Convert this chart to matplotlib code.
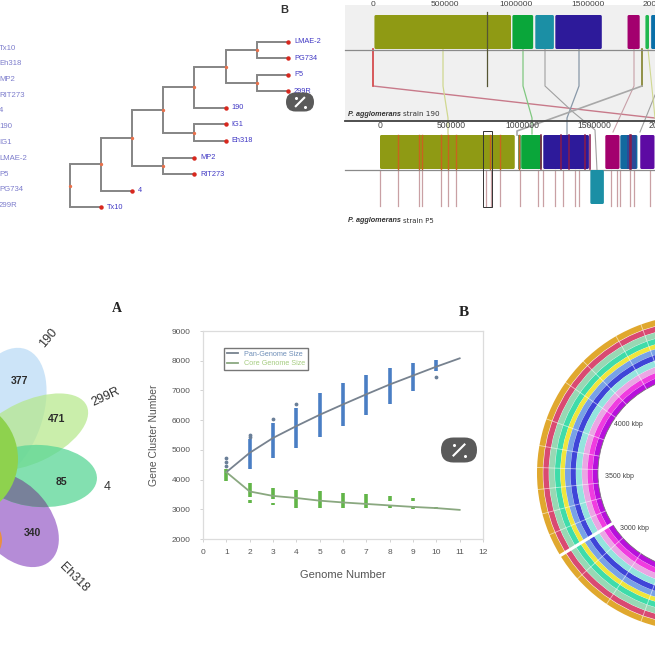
import matplotlib
matplotlib.use("Agg")
import matplotlib.pyplot as plt
import numpy as np
from matplotlib.patches import Ellipse, FancyBboxPatch, Rectangle, Wedge

plt.rcParams['font.family'] = ['Liberation Sans', 'DejaVu Sans']

# --- panel data ---
strain_list = ["Tx10", "Eh318", "MP2", "RIT273", "4", "190", "IG1", "LMAE-2", "P5", "PG734", "299R"]
tree = ("Tx10", ("4", (("MP2", "RIT273"), (("IG1", "Eh318"), ("190", (("P5", "299R"), ("LMAE-2", "PG734")))))))
tree_leaf_order = ["LMAE-2", "PG734", "P5", "299R", "190", "IG1", "Eh318", "MP2", "RIT273", "4", "Tx10"]

genome_ticks = [0, 500000, 1000000, 1500000, 2000000]
top_blocks = [(10000, 965000, "#8f9a14"), (975000, 1120000, "#0aa63a"), (1135000, 1265000, "#1b8fa5"),
              (1275000, 1600000, "#2d1a9a"), (1780000, 1865000, "#a3006e"), (1905000, 1930000, "#1fb84f"),
              (1945000, 2100000, "#0a6fa8")]
bottom_blocks = [(0, 945000, "#8f9a14"), (990000, 1135000, "#0aa63a"), (1145000, 1465000, "#2d1a9a"),
                 (1580000, 1680000, "#a3006e"), (1685000, 1805000, "#12699f"), (1825000, 1925000, "#5d0aa3"),
                 (1940000, 2000000, "#b0106e")]
moved_block = (1475000, 1570000, "#1b8fa5")
bottom_red = [128000, 270000, 297000, 430000, 480000, 535000, 770000, 843000, 975000]
bottom_inner_red = [1130000, 1270000, 1325000, 1435000, 1470000, 1750000, 1760000]
lcb_ticks = [0, 128000, 270000, 297000, 430000, 480000, 535000, 745000, 775000, 843000, 985000, 1110000, 1142000,
             1230000, 1283000, 1365000, 1395000, 1620000, 1660000, 1680000, 1750000, 1780000, 1895000, 1935000]

flower_counts = [377, 471, 85, 340]
flower_names = ["190", "299R", "4", "Eh318"]

genomes = [1, 2, 3, 4, 5, 6, 7, 8, 9, 10, 11]
pan_size = [4250, 4900, 5400, 5800, 6180, 6530, 6870, 7200, 7500, 7800, 8080]
core_size = [4250, 3600, 3450, 3380, 3290, 3230, 3180, 3130, 3080, 3040, 2980]
pan_n = [2, 3, 4, 5, 6, 7, 8, 9, 10]
pan_low = [4350, 4720, 5050, 5420, 5800, 6180, 6550, 6980, 7650]
pan_high = [5350, 5900, 6420, 6930, 7250, 7520, 7750, 7930, 8030]
pan_out_x = [1, 1, 1, 2, 2, 3, 4, 10]
pan_out_y = [4720, 4600, 4450, 5500, 5430, 6030, 6560, 7450]
core_n = [1, 2, 2, 3, 3, 4, 5, 6, 7, 8, 8, 9, 9, 10]
core_low = [3950, 3400, 3220, 3350, 3130, 3050, 3030, 3030, 3030, 3280, 3050, 3280, 3000, 3000]
core_high = [4350, 3900, 3320, 3720, 3200, 3650, 3600, 3550, 3500, 3450, 3150, 3370, 3100, 3080]

ring_colors = ["#e0a82e", "#d94a72", "#98d8b4", "#3fdcaa", "#f0e63c", "#78a2e6",
               "#3f45d8", "#94e4de", "#eaa6e4", "#f03ce0", "#b810dc"]
ring_outer = [158, 151.7, 146, 140, 134.5, 130, 124.5, 119, 113, 107.5, 102.3]
ring_inner = [152.2, 146.3, 140.3, 134.7, 130.2, 124.7, 119.2, 113.2, 107.7, 102.5, 97]
ring_gaps = [170, 178, 186, 195, 203, 222, 236, 250, 262, 145, 135, 120, 110, 160]
ring_labels = ["4000 kbp", "3500 kbp", "3000 kbp"]

fig = plt.figure(figsize=(6.55, 6.55), dpi=100)
ax = fig.add_axes([0, 0, 1, 1])
ax.set_xlim(0, 655)
ax.set_ylim(655, 0)
ax.axis("off")

# strain list on the far left
for i, name in enumerate(strain_list):
    ax.text(-1, 48 + i * 15.75, name, color="#7d7dcc", fontsize=5.6, va="center")


# tree, leaves at depth steps
def draw_tree(node, depth):
    x = 69.5 + depth * 31.2
    if isinstance(node, str):
        y = 41.7 + tree_leaf_order.index(node) * 16.55
        ax.plot(x, y, "o", color="#d8281e", ms=2.2, zorder=3)
        ax.text(x + 6, y, node, color="#4038c4", fontsize=5.3, va="center")
        return y
    ya = draw_tree(node[0], depth + 1)
    yb = draw_tree(node[1], depth + 1)
    x2 = x + 31.2
    ax.plot([x2, x, x, x2], [ya, ya, yb, yb], color="#858585", lw=1.4, zorder=2, solid_joinstyle="miter")
    ym = (ya + yb) / 2
    ax.plot(x, ym, "o", color="#e8704a", ms=1.4, zorder=3)
    return ym


draw_tree(tree, 0)
ax.text(284, 10, "B", fontsize=8, fontweight="bold", color="#333333", ha="center", va="center")


# genome alignment panel
def top_x(bp):
    return 373 + 143e-6 * bp


def bot_x(bp):
    return 380 + 142.6e-6 * bp


def block(x0, x1, y0, y1, color):
    ax.add_patch(FancyBboxPatch((x0 + 1.5, y0 + 1.5), x1 - x0 - 3, y1 - y0 - 3, boxstyle="round,pad=1.5",
                                fc=color, ec="none", zorder=3))


ax.add_patch(Rectangle((345, 5), 310, 115, fc="#f0f0f0", ec="none", zorder=0))
ax.plot([345, 655], [49.5, 49.5], color="#8a8a8a", lw=0.9, zorder=2)
ax.plot([345, 655], [120.5, 120.5], color="#404040", lw=1.3, zorder=2)
ax.plot([345, 655], [169.5, 169.5], color="#8a8a8a", lw=0.9, zorder=2)
for t in genome_ticks:
    ax.text(top_x(t), 5, str(t), fontsize=6, color="#444444", ha="center", va="center")
    ax.text(bot_x(t), 125, str(t), fontsize=6.2, color="#444444", ha="center", va="center", zorder=5)
for a, b, c in top_blocks:
    block(top_x(a), top_x(b), 15, 49, c)
for a, b, c in bottom_blocks:
    block(bot_x(a), bot_x(b), 135, 169, c)
block(bot_x(moved_block[0]), bot_x(moved_block[1]), 170, 204, moved_block[2])
ax.add_patch(Rectangle((bot_x(1730000), 135), 9, 34, fc="#2a4a98", ec="none", zorder=4))
ax.add_patch(Rectangle((bot_x(965000), 135), 3, 34, fc="#6a9a70", ec="none", zorder=4))
ax.plot([top_x(0)] * 2 + [655], [49, 86, 118], color="#c87a8a", lw=1, zorder=1)
ax.plot([top_x(0)] * 2, [49, 86], color="#d85050", lw=1.2, zorder=1)
ax.plot([top_x(795000)] * 2, [12, 86], color="#555533", lw=0.9, zorder=4)
ax.plot([443, 443, 448, 448], [49, 86, 118, 134], color="#d0d890", lw=0.9, zorder=1)
ax.plot([523, 523, 532, 532], [49, 86, 118, 134], color="#80c880", lw=0.9, zorder=1)
ax.plot([545, 545, 573, 595, 597], [49, 86, 112, 130, 170], color="#a0a0a0", lw=0.8, zorder=1)
ax.plot([579, 579, 567, 567], [49, 86, 118, 135], color="#8898a8", lw=0.9, zorder=1)
ax.plot([634, 634, 613], [49, 86, 132], color="#c8a0a8", lw=0.8, zorder=1)
ax.plot([642, 642], [49, 86], color="#80802a", lw=1.2, zorder=1)
ax.plot([642, 517, 517], [86, 131, 135], color="#a8a8a8", lw=1.2, zorder=1)
ax.plot([655, 640], [95, 132], color="#a0a0a0", lw=0.8, zorder=1)
ax.plot([648, 655], [49, 118], color="#d0d890", lw=0.8, zorder=1)
for t in bottom_red:
    ax.plot([bot_x(t)] * 2, [135, 169], color="#c8641e", lw=1, zorder=4)
for t in bottom_inner_red:
    ax.plot([bot_x(t)] * 2, [135, 169], color="#8a1a4a", lw=1.1, zorder=4)
for t in lcb_ticks:
    ax.plot([bot_x(t)] * 2, [170, 206], color="#c9a0a4", lw=0.9, zorder=1)
ax.add_patch(Rectangle((483, 131), 9, 76, fc="none", ec="#333333", lw=0.7, zorder=5))
ax.text(348, 114, "P. agglomerans", fontsize=5.2, fontstyle="italic", fontweight="bold", color="#333333", va="center")
ax.text(403, 114, "strain 190", fontsize=5.2, family="DejaVu Sans", color="#333333", va="center")
ax.text(348, 221, "P. agglomerans", fontsize=5.2, fontstyle="italic", fontweight="bold", color="#333333", va="center")
ax.text(403, 221, "strain P5", fontsize=5, family="DejaVu Sans", color="#333333", va="center")

# flower diagram, cut by the left edge
ax.add_patch(Ellipse((2, 415), 140, 80, angle=-70, fc="#bcdcf6", ec="none", alpha=0.75, zorder=1))
ax.add_patch(Ellipse((30, 432), 125, 62, angle=-25, fc="#b4e888", ec="none", alpha=0.7, zorder=2))
four = Ellipse((40, 476), 114, 62, angle=3, fc="#5ad696", ec="none", alpha=0.75, zorder=3)
ax.add_patch(four)
purple = Ellipse((15, 520), 108, 70, angle=50, fc="#a878d0", ec="none", alpha=0.85, zorder=2)
ax.add_patch(purple)
overlap = Ellipse((40, 476), 114, 62, angle=3, fc="#78819a", ec="none", zorder=3.5)
ax.add_patch(overlap)
overlap.set_clip_path(purple)
ax.add_patch(Ellipse((-22, 540), 48, 46, fc="#f09030", ec="none", alpha=0.9, zorder=2.5))
ax.add_patch(Ellipse((-42, 459), 120, 120, fc="#8ed24e", ec="none", zorder=4))
for x, y, n in zip([20, 57, 61, 32], [381, 419, 482, 533], flower_counts):
    ax.text(x, y, str(n), fontsize=7.5, fontweight="bold", color="#2b2b2b", ha="center", va="center", zorder=6)
for x, y, n, r in zip([49, 106, 107, 74], [338, 397, 487, 578], flower_names, [50, 25, 0, -45]):
    ax.text(x, y, n, fontsize=9, rotation=r, color="#333333", ha="center", va="center", zorder=6)
ax.text(117, 308, "A", fontsize=10, fontweight="bold", family="Liberation Serif", color="#222222", ha="center", va="center")
ax.text(464, 312, "B", fontsize=11, fontweight="bold", family="Liberation Serif", color="#222222", ha="center", va="center")

# circular genome rings
for c, ro, ri in zip(ring_colors, ring_outer, ring_inner):
    ax.add_patch(Wedge((695, 473), ro, 0, 360, width=ro - ri, fc=c, ec="none", zorder=1))
ax.add_patch(Wedge((695, 473), 97.5, 0, 360, width=0.8, fc="#777777", ec="none", zorder=1))
th = np.deg2rad(211.5)
ax.plot([695 + 97 * np.cos(th), 695 + 158 * np.cos(th)], [473 - 97 * np.sin(th), 473 - 158 * np.sin(th)],
        color="white", lw=2.2, zorder=2)
for g in ring_gaps:
    th = np.deg2rad(g)
    ax.plot([695 + 97 * np.cos(th), 695 + 158 * np.cos(th)], [473 - 97 * np.sin(th), 473 - 158 * np.sin(th)],
            color="white", lw=0.6, alpha=0.6, zorder=2)
for x, y, s in zip([628, 619, 634], [424, 477, 528], ring_labels):
    ax.text(x, y, s, fontsize=5, color="#444444", ha="center", va="center", zorder=3)

# wand buttons over the picture
for x, y, w, h in [(300, 102, 28, 19), (459, 450, 36, 25)]:
    ax.add_patch(FancyBboxPatch((x - w / 2 + h / 2, y), w - h, 0.01, boxstyle="round,pad=%f" % (h / 2),
                                fc="#5a5a5a", ec="none", zorder=7))
    ax.plot([x - h * 0.22, x + h * 0.22], [y + h * 0.22, y - h * 0.22], color="white", lw=1.5, zorder=8)
    ax.plot([x - h * 0.2, x + h * 0.25], [y - h * 0.2, y + h * 0.25], "o", color="white", ms=1.2, zorder=8)

# pan / core chart
chart = fig.add_axes([203 / 655, 1 - 539 / 655, 280 / 655, 208 / 655])
chart.set_xlim(0, 12)
chart.set_ylim(2000, 9000)
chart.patch.set_alpha(0)
chart.vlines(pan_n, pan_low, pan_high, color="#4a7ec4", lw=2.6, zorder=2)
chart.scatter(pan_out_x, pan_out_y, s=3, color="#6a7f98", zorder=2)
chart.vlines(core_n, core_low, core_high, color="#62b548", lw=2.6, zorder=2)
chart.plot(genomes, pan_size, color="#77828f", lw=1.3, zorder=3, label="Pan-Genome Size")
chart.plot(genomes, core_size, color="#8aa880", lw=1.3, zorder=3, label="Core Genome Size")
chart.set_xticks(range(0, 13))
chart.set_yticks(range(2000, 10000, 1000))
chart.tick_params(labelsize=6, colors="#555555", length=2, width=0.6, color="#cccccc")
chart.tick_params(axis="x", pad=5)
chart.tick_params(axis="y", pad=7)
for s in chart.spines.values():
    s.set_color("#dcdcdc")
    s.set_linewidth(0.9)
chart.set_xlabel("Genome Number", fontsize=8, color="#555555", labelpad=10)
chart.set_ylabel("Gene Cluster Number", fontsize=7.5, color="#555555", labelpad=9)
leg = chart.legend(loc="upper left", bbox_to_anchor=(0.075, 0.92), fontsize=5.2, fancybox=False, framealpha=1,
                   edgecolor="#777777", borderpad=0.4, labelspacing=0.35, handlelength=1.6, borderaxespad=0)
leg.get_texts()[0].set_color("#6f8fb8")
leg.get_texts()[1].set_color("#a5cc80")

fig.savefig("out.png", dpi=100)
